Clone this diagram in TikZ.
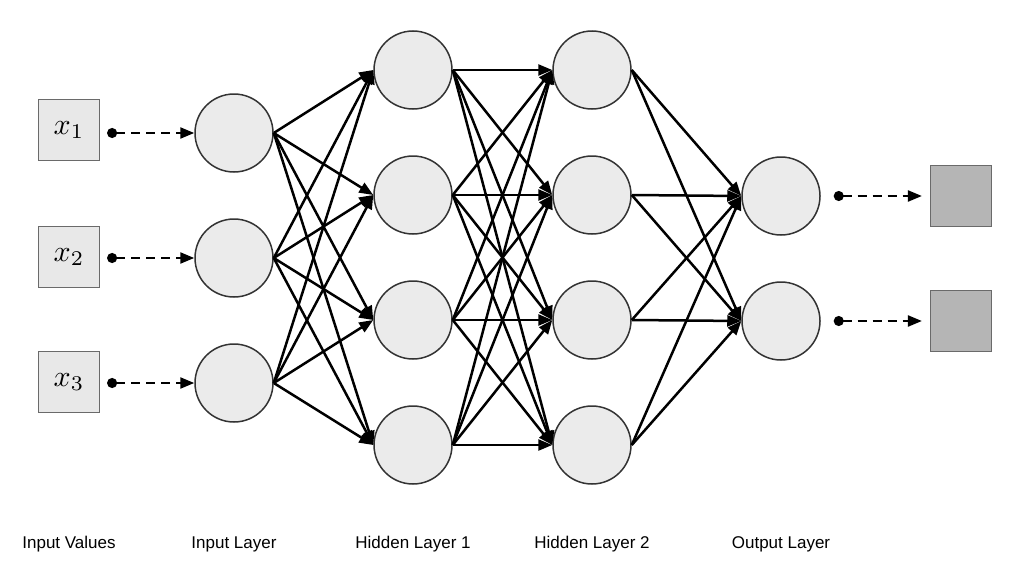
\documentclass[tikz,border=0pt]{standalone}
\usepackage{graphicx}
\usepackage{fontspec}
\setsansfont{Liberation Sans}
\usetikzlibrary{arrows.meta}
\definecolor{nodefill}{HTML}{EBEBEB}
\definecolor{nodedraw}{HTML}{333333}
\definecolor{inboxfill}{HTML}{E8E8E8}
\definecolor{outboxfill}{HTML}{B5B5B5}
\definecolor{boxdraw}{HTML}{6A6A6A}
\newcommand{\bigmath}[1]{\scalebox{3.0}{$#1$}}
\tikzset{
  neuron/.style={circle, draw=nodedraw, fill=nodefill, line width=1.5pt, minimum size=78pt, inner sep=0pt},
  inbox/.style={rectangle, draw=boxdraw, fill=inboxfill, line width=1.2pt, minimum size=61pt, inner sep=0pt},
  outbox/.style={rectangle, draw=boxdraw, fill=outboxfill, line width=1.2pt, minimum size=61pt, inner sep=0pt},
  conn/.style={line width=2.5pt, -{Triangle[length=14pt,width=11pt]}},
  dasharrow/.style={line width=2.2pt, dash pattern=on 9pt off 6pt, {Circle[length=10pt]}-{Triangle[length=14pt,width=11pt]}},
  layerlabel/.style={font=\sffamily\fontsize{17}{20}\selectfont, anchor=center}
}
\begin{document}
\begin{tikzpicture}[x=1pt,y=-1pt]
\useasboundingbox (0,0) rectangle (1024,570);
% input boxes
\foreach \i/\y in {1/130,2/257,3/382}{
  \node[inbox] (x\i) at (69,\y) {\bigmath{x_{\i}}};
}
% input layer
\foreach \i/\y in {1/133,2/258,3/383}{
  \node[neuron] (i\i) at (234,\y) {};
}
% hidden 1
\foreach \i/\y in {1/70,2/195,3/320,4/445}{
  \node[neuron] (h\i) at (413,\y) {};
}
% hidden 2
\foreach \i/\y in {1/70,2/195,3/320,4/445}{
  \node[neuron] (g\i) at (592,\y) {};
}
% output
\foreach \i/\y in {1/196,2/321}{
  \node[neuron] (o\i) at (781,\y) {};
}
% output boxes
\foreach \i/\y in {1/196,2/321}{
  \node[outbox] (y\i) at (961,\y) {};
}
% dashed input arrows
\foreach \i in {1,2,3}{
  \coordinate (ds\i) at ([xshift=7pt]x\i.east |- i\i.west);
  \draw[dasharrow] (ds\i) -- (i\i.west);
}
% dashed output arrows
\foreach \i in {1,2}{
  \coordinate (os\i) at ([xshift=13pt]o\i.east);
  \coordinate (oe\i) at ([xshift=-8pt]y\i.west);
  \draw[dasharrow] (os\i) -- (oe\i);
}
% connections
\foreach \a in {1,2,3}{
  \foreach \b in {1,2,3,4}{
    \draw[conn] (i\a.east) -- (h\b.west);
  }
}
\foreach \a in {1,2,3,4}{
  \foreach \b in {1,2,3,4}{
    \draw[conn] (h\a.east) -- (g\b.west);
  }
}
\foreach \a in {1,2,3,4}{
  \foreach \b in {1,2}{
    \draw[conn] (g\a.east) -- (o\b.west);
  }
}
% labels
\node[layerlabel] (l1) at (69,544) {Input Values};
\node[layerlabel] (l2) at (234,544) {Input Layer};
\node[layerlabel] (l3) at (413,544) {Hidden Layer 1};
\node[layerlabel] (l4) at (592,544) {Hidden Layer 2};
\node[layerlabel] (l5) at (781,544) {Output Layer};
\end{tikzpicture}
\end{document}
